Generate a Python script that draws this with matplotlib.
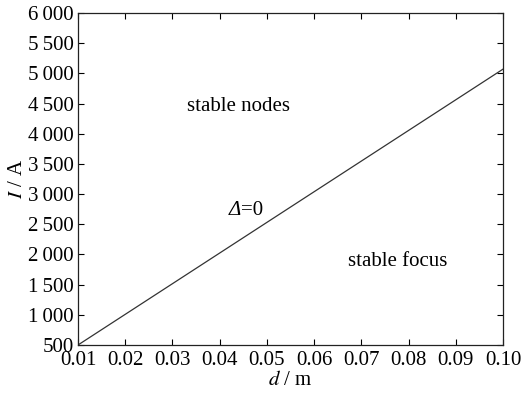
import numpy as np
import matplotlib.pyplot as plt
from matplotlib.ticker import FuncFormatter

# boundary Delta=0 between stable nodes and stable focus
d = [0.01, 0.10]
I = [500, 5070]

xticks = [0.01, 0.02, 0.03, 0.04, 0.05, 0.06, 0.07, 0.08, 0.09, 0.10]
yticks = [500, 1000, 1500, 2000, 2500, 3000, 3500, 4000, 4500, 5000, 5500, 6000]

plt.rcParams['font.family'] = ['Liberation Serif', 'DejaVu Serif']
plt.rcParams['mathtext.fontset'] = 'stix'

fig = plt.figure(figsize=(5.22, 3.93), dpi=100)
ax = fig.add_axes([78/522, 48/393, 425/522, 332/393])

ax.plot(d, I, color='#333333', lw=0.9)

ax.set_xlim(0.01, 0.10)
ax.set_ylim(500, 6000)
ax.set_xticks(xticks)
ax.set_yticks(yticks)
ax.xaxis.set_major_formatter(FuncFormatter(lambda v, p: '%.2f' % v))
ax.yaxis.set_major_formatter(FuncFormatter(
    lambda v, p: ('%d' % v) if v < 1000 else '%d\u2009%03d' % (v // 1000, v % 1000)))
ax.tick_params(direction='in', top=True, right=True, length=4, width=0.8,
               labelsize=15, pad=3, colors='black')
ax.tick_params(axis='x', pad=4)
for s in ax.spines.values():
    s.set_linewidth(0.9)
    s.set_color('#222222')

ax.set_xlabel('$d$ / m', fontsize=15, labelpad=1)
ax.set_ylabel('$I$ / A', fontsize=15, labelpad=1)

ax.text(0.0439, 4443, 'stable nodes', fontsize=15, ha='center', va='center')
ax.text(0.0778, 1891, 'stable focus', fontsize=15, ha='center', va='center')
ax.text(0.0445, 2736, '\u0394', fontsize=15, style='italic', ha='right', va='center')
ax.text(0.0445, 2736, '=0', fontsize=15, ha='left', va='center')

fig.savefig('out.png', dpi=100)
